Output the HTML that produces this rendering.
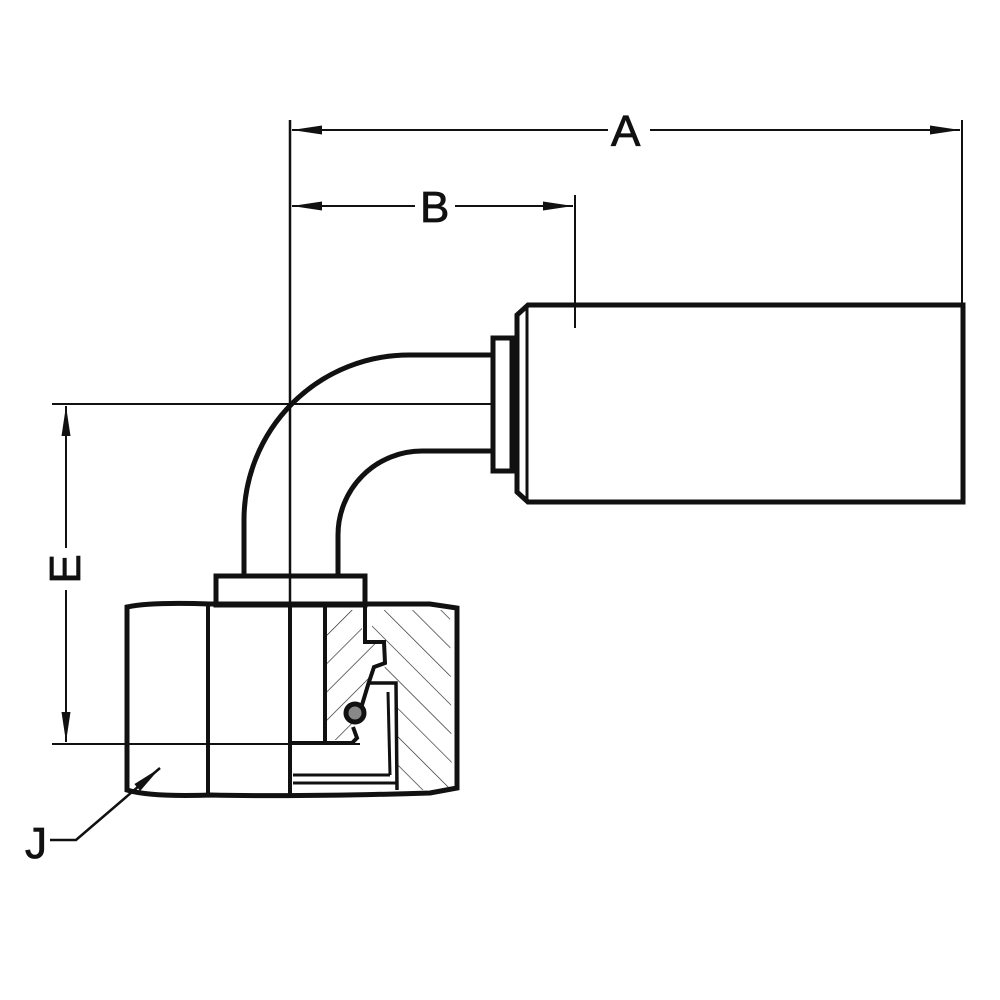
<!DOCTYPE html>
<html><head><style>body{margin:0;background:#fff}svg{display:block}</style></head>
<body>
<svg width="1000" height="1000" viewBox="0 0 1000 1000" xmlns="http://www.w3.org/2000/svg">
<defs>
<pattern id="h1" patternUnits="userSpaceOnUse" width="20" height="20" patternTransform="rotate(45)">
<line x1="0" y1="0" x2="0" y2="20" stroke="#222" stroke-width="1.3"/>
</pattern>
<pattern id="h2" patternUnits="userSpaceOnUse" width="20" height="20" patternTransform="rotate(-45)">
<line x1="0" y1="0" x2="0" y2="20" stroke="#222" stroke-width="1.3"/>
</pattern>
<marker id="ar" viewBox="0 0 30 10" refX="30" refY="5" markerWidth="30" markerHeight="10" markerUnits="userSpaceOnUse" orient="auto-start-reverse">
<path d="M0,0.5 L30,5 L0,9.5 z" fill="#111"/>
</marker>
</defs>
<g fill="none" stroke="#111">
<path d="M327,610 L362,610 L362,642 L378,642 L380,662 L372,672 L367,705 L357,740 L327,740 Z" fill="url(#h1)" stroke="none"/>
<path d="M372,610 L450,610 L452,790 L398,790 L395,680 L384,680 L386,642 L372,642 Z" fill="url(#h2)" stroke="none"/>

<line x1="290" y1="120" x2="290" y2="798" stroke-width="2.5"/>
<line x1="962" y1="120" x2="962" y2="305" stroke-width="2"/>
<line x1="575" y1="195" x2="575" y2="328" stroke-width="2"/>
<line x1="292" y1="130" x2="608" y2="130" stroke-width="2" marker-start="url(#ar)"/>
<line x1="650" y1="130" x2="960" y2="130" stroke-width="2" marker-end="url(#ar)"/>
<line x1="292" y1="206" x2="415" y2="206" stroke-width="2" marker-start="url(#ar)"/>
<line x1="455" y1="206" x2="573" y2="206" stroke-width="2" marker-end="url(#ar)"/>
<line x1="52" y1="404" x2="493" y2="404" stroke-width="2"/>
<line x1="52" y1="744" x2="360" y2="744" stroke-width="2"/>
<line x1="66" y1="406" x2="66" y2="548" stroke-width="2" marker-start="url(#ar)"/>
<line x1="66" y1="590" x2="66" y2="742" stroke-width="2" marker-end="url(#ar)"/>
<polyline points="50,840 76,840 160,768" stroke-width="2.5" marker-end="url(#ar)"/>

<path d="M244,576 L244,520 A165,165 0 0 1 409,355 L493,355" stroke-width="5"/>
<path d="M338,576 L338,535 A84,84 0 0 1 422,451 L493,451" stroke-width="5"/>
<rect x="493" y="338" width="19" height="133" stroke-width="5"/>
<path d="M528,305 L963,305 L963,502 L528,502 L517,492 L517,315 Z" stroke-width="5"/>
<line x1="527" y1="306" x2="527" y2="501" stroke-width="3"/>

<rect x="216" y="576" width="149" height="29" stroke-width="5"/>
<path d="M127,607 Q150,602 210,604 L430,604 L457,608 L457,788 L430,793 Q300,797 210,795 Q150,797 127,790 Z" stroke-width="5"/>
<line x1="208" y1="605" x2="208" y2="794" stroke-width="4"/>
<line x1="290" y1="605" x2="290" y2="794" stroke-width="4"/>
<line x1="325" y1="606" x2="325" y2="742" stroke-width="4"/>
<path d="M365,605 L365,642 L384,642 L385,663 L374,667 L368,685 L362,705" stroke-width="4"/>
<path d="M370,683 L396,683 L397,790" stroke-width="3.5"/>
<path d="M353,727 L357,738 L352,743 L292,743" stroke-width="4"/>
<line x1="388" y1="692" x2="390" y2="775" stroke-width="3"/>
<line x1="293" y1="775" x2="390" y2="775" stroke-width="3"/>
<line x1="293" y1="783" x2="397" y2="783" stroke-width="3"/>
<circle cx="355" cy="713" r="9" fill="#888" stroke-width="5"/>
</g>
<g font-family="Liberation Sans, sans-serif" font-size="44" fill="#111" stroke="#111" stroke-width="0.8">
<text x="611" y="146">A</text>
<text x="420" y="222">B</text>
<text x="25" y="858">J</text>
<text transform="translate(80,569) rotate(-90)" text-anchor="middle">E</text>
</g>
</svg>
</body></html>
